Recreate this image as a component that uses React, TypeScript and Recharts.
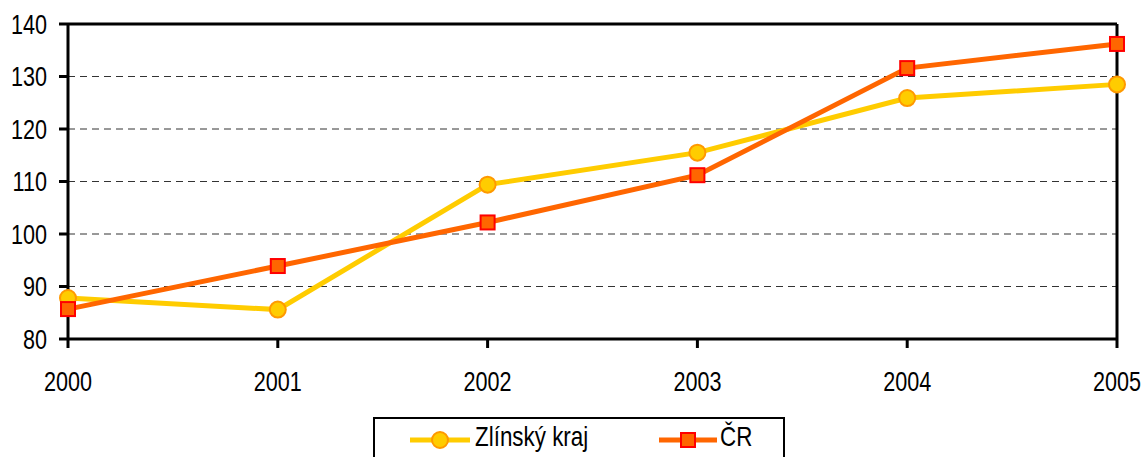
import { LineChart, Line, XAxis, YAxis, CartesianGrid, ReferenceLine } from "recharts";

const years = ["2000", "2001", "2002", "2003", "2004", "2005"];
const zlinsky = [87.8, 85.6, 109.4, 115.5, 125.9, 128.5];
const cr = [85.7, 93.9, 102.2, 111.2, 131.6, 136.2];
const yTicks = [80, 90, 100, 110, 120, 130, 140];

const data = years.map((year, i) => ({ year, zlin: zlinsky[i], cr: cr[i] }));

// Arial Narrow look-alike: Liberation Sans squeezed horizontally
const FONT = "'Liberation Sans', Arial, sans-serif";
const SQUEEZE = 0.8;
const FS = 27;

const XTick = (props: any) => {
  const { x, y, payload } = props;
  return (
    <g transform={`translate(${x},${y}) scale(${SQUEEZE},1)`}>
      <text x={0} y={0} dy="0.71em" textAnchor="middle" fill="#000" fontSize={FS} fontFamily={FONT}>
        {payload.value}
      </text>
    </g>
  );
};

const YTick = (props: any) => {
  const { x, y, payload } = props;
  return (
    <g transform={`translate(${x},${y}) scale(${SQUEEZE},1)`}>
      <text x={0} y={0} dy="0.355em" textAnchor="end" fill="#000" fontSize={FS} fontFamily={FONT}>
        {payload.value}
      </text>
    </g>
  );
};

const CircleDot = (props: any) => {
  const { cx, cy } = props;
  if (cx == null || cy == null) return null;
  return <circle cx={cx} cy={cy} r={8} fill="#FFCC00" stroke="#FF9900" strokeWidth={2} />;
};

const SquareDot = (props: any) => {
  const { cx, cy } = props;
  if (cx == null || cy == null) return null;
  return <rect x={cx - 7} y={cy - 7} width={14} height={14} fill="#FF6600" stroke="#FF0000" strokeWidth={2} />;
};

const labelStyle = (left: number): React.CSSProperties => ({
  position: "absolute",
  left,
  top: 2,
  fontFamily: FONT,
  fontSize: 28,
  transform: `scaleX(${SQUEEZE})`,
  transformOrigin: "left center",
  whiteSpace: "nowrap",
});

const LegendBox = () => (
  <div
    style={{
      position: "absolute",
      left: 373,
      top: 417,
      width: 412,
      height: 50,
      border: "2px solid #000",
      boxSizing: "border-box",
      color: "#000",
    }}
  >
    <svg width={70} height={30} style={{ position: "absolute", left: 33, top: 6 }}>
      <line x1={2} y1={15} x2={62} y2={15} stroke="#FFCC00" strokeWidth={5} />
      <circle cx={32} cy={15} r={8} fill="#FFCC00" stroke="#FF9900" strokeWidth={2} />
    </svg>
    <span style={labelStyle(100)}>Zlínský kraj</span>
    <svg width={70} height={30} style={{ position: "absolute", left: 282, top: 6 }}>
      <line x1={2} y1={15} x2={60} y2={15} stroke="#FF6600" strokeWidth={5} />
      <rect x={24} y={8} width={14} height={14} fill="#FF6600" stroke="#FF0000" strokeWidth={2} />
    </svg>
    <span style={labelStyle(345)}>ČR</span>
  </div>
);

export default function App() {
  return (
    <div style={{ position: "absolute", left: 0, top: 0, width: 1144, height: 457, background: "#fff", overflow: "hidden" }}>
      <LineChart
        width={1144}
        height={457}
        data={data}
        margin={{ top: 24, right: 27, left: 8, bottom: 58 }}
      >
        <CartesianGrid horizontal vertical={false} stroke="#333" strokeDasharray="7 5" strokeWidth={1} />
        <XAxis
          dataKey="year"
          padding={{ left: 0, right: 0 }}
          height={60}
          tickSize={9}
          tickMargin={24}
          axisLine={{ stroke: "#000", strokeWidth: 3 }}
          tickLine={{ stroke: "#000", strokeWidth: 3 }}
          tick={<XTick />}
          interval={0}
        />
        <YAxis
          domain={[80, 140]}
          ticks={yTicks}
          width={60}
          tickSize={9}
          tickMargin={12}
          axisLine={{ stroke: "#000", strokeWidth: 3 }}
          tickLine={{ stroke: "#000", strokeWidth: 3 }}
          tick={<YTick />}
          interval={0}
        />
        <ReferenceLine y={140} stroke="#000" strokeWidth={3} />
        <ReferenceLine x="2005" stroke="#000" strokeWidth={3} />
        <Line
          dataKey="zlin"
          stroke="#FFCC00"
          strokeWidth={5}
          dot={<CircleDot />}
          isAnimationActive={false}
        />
        <Line
          dataKey="cr"
          stroke="#FF6600"
          strokeWidth={5}
          dot={<SquareDot />}
          isAnimationActive={false}
        />
      </LineChart>
      <LegendBox />
    </div>
  );
}
